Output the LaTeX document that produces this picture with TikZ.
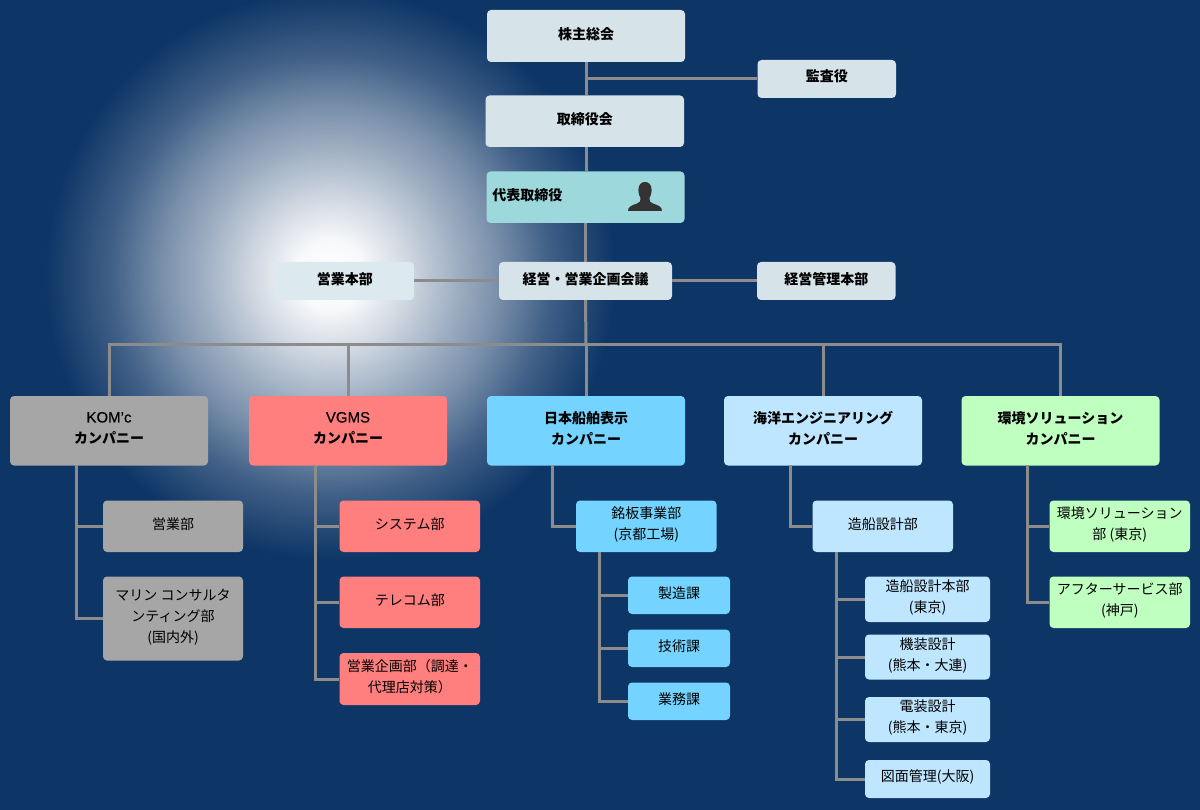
\documentclass[tikz,border=0pt]{standalone}
\usepackage{fontspec}
\setmainfont{Noto Sans CJK JP}
\newfontfamily\latinfont[FakeBold=.35]{Liberation Sans}
\usetikzlibrary{calc,positioning}
\definecolor{navy}{HTML}{0D3566}
\definecolor{linegray}{HTML}{8C8C8C}
\definecolor{topbox}{HTML}{D6E4EA}
\definecolor{salesbox}{HTML}{DCE9EE}
\definecolor{ceobox}{HTML}{9DD9DC}
\definecolor{graybox}{HTML}{A6A6A6}
\definecolor{redbox}{HTML}{FF7F7F}
\definecolor{bluebox}{HTML}{75D4FF}
\definecolor{seabox}{HTML}{BFE6FF}
\definecolor{greenbox}{HTML}{BFFFBF}
\pgfdeclareradialshading{glow}{\pgfpoint{0bp}{0bp}}{color(0bp)=(white);color(3bp)=(white!97!navy);
  color(6.5bp)=(white!82!navy);color(11.2bp)=(white!60!navy);color(14.9bp)=(white!44!navy);
  color(19.3bp)=(white!21!navy);color(25bp)=(navy);color(50bp)=(navy)}
\tikzset{link/.style={draw=linegray,line width=3pt},
  box/.style={rounded corners=4pt,inner sep=0pt,align=center,font=\fontsize{14}{21}\selectfont,
    execute at end node={\rule[-6pt]{0pt}{6pt}}},
  head/.style={box,font=\fontsize{14}{21}\selectfont\bfseries},
  topnode/.style={head,fill=topbox},
  company/.style={head,minimum width=198pt,minimum height=69.5pt}}

\begin{document}
\begin{tikzpicture}[x=1pt,y=-1pt]
\useasboundingbox(0,0)rectangle(1200,810);
\fill[navy](0,0)rectangle(1200,810);
\begin{scope}\clip(0,0)rectangle(1200,810);\shade[shading=glow](330,275)circle(285);
\end{scope}
% top of the chart
\node[topnode,minimum width=198pt,minimum height=52pt](kabu)at(586,36){株主総会};
\node[topnode,minimum width=138.5pt,minimum height=38pt](kansa)at(826.75,79){監査役};
\node[topnode,minimum width=198.5pt,minimum height=51.5pt](torishimari)at(584.75,121.25){取締役会};
\node[head,fill=ceobox,minimum width=198pt,minimum height=51.5pt,text width=186.5pt,align=left](daihyo)at(585.5,197.25){代表取締役};
\node[topnode,minimum width=173pt,minimum height=38pt](kaigi)at(585.5,281){経営・営業企画会議};
\node[topnode,minimum width=138.5pt,minimum height=38pt](kanri)at(826.25,281){経営管理本部};
\node[head,fill=salesbox,minimum width=138.5pt,minimum height=38pt](eigyo)at(344.75,281){営業本部};
% person in the ceo box
\begin{scope}[shift={(645,198)}]
\fill[black!80](-17,13).. controls (-17,9) and (-14,7.5) .. (-8,5.5).. controls (-5,4.5) and (-4,3) .. (-4.5,0)
  .. controls (-8,-6) and (-7.5,-16) .. (0,-16).. controls (7.5,-16) and (8,-6) .. (4.5,0)
  .. controls (4,3) and (5,4.5) .. (8,5.5).. controls (14,7.5) and (17,9) .. (17,13)--cycle;
\end{scope}
% companies
\node[company,fill=graybox](kom)at(109,430.75){{\latinfont\mdseries\fontsize{15}{21}\selectfont KOM’c}\\カンパニー};
\node[company,fill=redbox](vgms)at(348,430.75){{\latinfont\mdseries\fontsize{15}{21}\selectfont VGMS}\\カンパニー};
\node[company,fill=bluebox](meiban)at(586,430.75){日本船舶表示\\カンパニー};
\node[company,fill=seabox](kaiyo)at(823,430.75){海洋エンジニアリング\\カンパニー};
\node[company,fill=greenbox](kankyo)at(1060.5,430.75){環境ソリューション\\カンパニー};
% departments
\node[box,fill=graybox,minimum width=140pt,minimum height=51.5pt](komA)at(173,526.25){営業部};
\node[box,fill=graybox,minimum width=140pt,minimum height=84pt](komB)at(173,618.5){マリン コンサルタ\\ンティング部\\(国内外)};
\node[box,fill=redbox,minimum width=140.5pt,minimum height=51.5pt](vgmsA)at(409.75,526.25){システム部};
\node[box,fill=redbox,minimum width=140.5pt,minimum height=51.5pt](vgmsB)at(409.75,602.25){テレコム部};
\node[box,fill=redbox,minimum width=140.5pt,minimum height=52pt](vgmsC)at(409.75,679){営業企画部（調達・\\代理店対策）};
\node[box,fill=bluebox,minimum width=140.5pt,minimum height=51.5pt](meibanA)at(646.25,526.25){銘板事業部\\(京都工場)};
\node[box,fill=bluebox,minimum width=102pt,minimum height=37.5pt](meibanB)at(679,595.25){製造課};
\node[box,fill=bluebox,minimum width=102pt,minimum height=37.5pt](meibanC)at(679,648.25){技術課};
\node[box,fill=bluebox,minimum width=102pt,minimum height=37.5pt](meibanD)at(679,701.25){業務課};
\node[box,fill=seabox,minimum width=140.5pt,minimum height=51.5pt](kaiyoA)at(882.75,526.25){造船設計部};
\node[box,fill=seabox,minimum width=125pt,minimum height=45.5pt](kaiyoB)at(927.5,599.25){造船設計本部\\(東京)};
\node[box,fill=seabox,minimum width=125pt,minimum height=45pt](kaiyoC)at(927.5,657){機装設計\\(熊本・大連)};
\node[box,fill=seabox,minimum width=125pt,minimum height=45pt](kaiyoD)at(927.5,719.5){電装設計\\(熊本・東京)};
\node[box,fill=seabox,minimum width=125pt,minimum height=38pt](kaiyoE)at(927.5,779){図面管理(大阪)};
\node[box,fill=greenbox,minimum width=140.5pt,minimum height=51.5pt](kankyoA)at(1119.75,526.25){環境ソリューション\\部 (東京)};
\node[box,fill=greenbox,minimum width=140.5pt,minimum height=51.5pt](kankyoB)at(1119.75,602.25){アフターサービス部\\(神戸)};
% free ends
\coordinate(bus)at(586,344.5);
\coordinate(komT)at(76,465);\coordinate(vgmsT)at(315,465);\coordinate(meibanT)at(552,465);
\coordinate(kaiyoT)at(790,465);\coordinate(kankyoT)at(1027.5,465);
\coordinate(meibanS)at(599.5,552);\coordinate(kaiyoS)at(836.5,552);
\coordinate(kansaJ)at(586,79);
\draw[link](kabu.south)--(kabu.south|-torishimari.north);\draw[link](kansaJ)--(kansa.west);
\draw[link](torishimari.south-|kabu.south)--(daihyo.north-|kabu.south);
\draw[link](daihyo.south)--(kaigi.north);\draw[link](kaigi.west)--(eigyo.east);\draw[link](kaigi.east)--(kanri.west);
\draw[link](kaigi.south)--(bus);
\foreach \c in {kom,vgms,meiban,kaiyo,kankyo}{\draw[link](bus)-|(\c.north);}
\draw[link](komT)|-(komA.west);\draw[link](komT)|-(komB.west);
\foreach \d in {A,B,C}{\draw[link](vgmsT)|-(vgms\d.west);}
\draw[link](meibanT)|-(meibanA.west);\draw[link](kaiyoT)|-(kaiyoA.west);
\foreach \d in {B,C,D}{\draw[link](meibanS)|-(meiban\d.west);}
\foreach \d in {B,C,D,E}{\draw[link](kaiyoS)|-(kaiyo\d.west);}
\draw[link](kankyoT)|-(kankyoA.west);\draw[link](kankyoT)|-(kankyoB.west);
\end{tikzpicture}
\end{document}
